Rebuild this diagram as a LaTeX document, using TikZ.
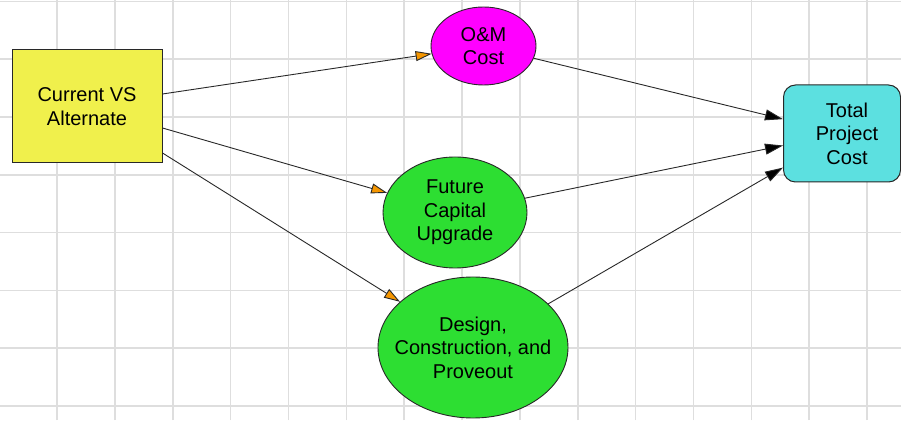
\documentclass[tikz,border=0pt]{standalone}
\usepackage{fontspec}
\setmainfont{Liberation Sans}
\usetikzlibrary{arrows.meta,shapes.geometric}
\definecolor{gridc}{RGB}{222,222,222}
\definecolor{yel}{RGB}{240,240,76}
\definecolor{mag}{RGB}{255,0,255}
\definecolor{grn}{RGB}{45,222,50}
\definecolor{cya}{RGB}{92,224,224}
\definecolor{orng}{RGB}{245,150,0}
\definecolor{edge}{RGB}{40,40,40}
\tikzset{
  lbl/.style={font=\fontsize{20}{23.5}\selectfont, align=center, text=black},
  boxnode/.style={draw=edge, line width=1pt, fill=yel, rectangle, inner sep=0pt, lbl},
  oval/.style={draw=edge, line width=0.9pt, ellipse, inner sep=-15pt, lbl},
  totbox/.style={draw=edge, line width=1pt, fill=cya, rectangle, rounded corners=12pt, inner sep=0pt},
  inarrow/.style={draw=edge, line width=0.9pt, -{Triangle[length=16pt,width=10pt,fill=orng]}},
  outarrow/.style={draw=edge, line width=0.9pt, -{Triangle[length=18pt,width=11pt,fill=black]}},
}
\begin{document}
\begin{tikzpicture}[x=1pt,y=1pt]
\useasboundingbox (0,0) rectangle (901,420);
\fill[white] (0,0) rectangle (901,420);
% grid
\foreach \k in {0,...,14} {
  \draw[gridc, line width=1.6pt] ({57+57.86*\k},0) -- ({57+57.86*\k},420);
}
\foreach \k in {0,...,7} {
  \draw[gridc, line width=1.6pt] (0,{418.5-57.8*\k}) -- (901,{418.5-57.8*\k});
}
% nodes
\node[boxnode, minimum width=150pt, minimum height=113pt] (cur) at (87,313.5) {Current VS\\Alternate};
\node[oval, fill=mag, minimum width=105pt, minimum height=78pt] (om) at (483.5,374) {O\&M\\Cost};
\node[oval, fill=grn, minimum width=144pt, minimum height=111pt] (fut) at (455,207.5) {Future\\Capital\\Upgrade};
\node[oval, fill=grn, minimum width=190pt, minimum height=141pt] (des) at (473,72.5) {Design,\\Construction, and\\Proveout};
\node[totbox, minimum width=117pt, minimum height=97pt,
      label={[lbl, xshift=5pt]center:Total\\Project\\Cost}] (tot) at (842,286.5) {};
% connectors
\draw[inarrow] ([yshift=12.5pt]cur.east) -- (om);
\draw[inarrow] ([yshift=-21.5pt]cur.east) -- (fut);
\draw[inarrow] ([yshift=-46.5pt]cur.east) -- (des);
\draw[outarrow] (om) -- (tot);
\draw[outarrow] (fut) -- (tot);
\draw[outarrow] (des) -- (tot);
\end{tikzpicture}
\end{document}
